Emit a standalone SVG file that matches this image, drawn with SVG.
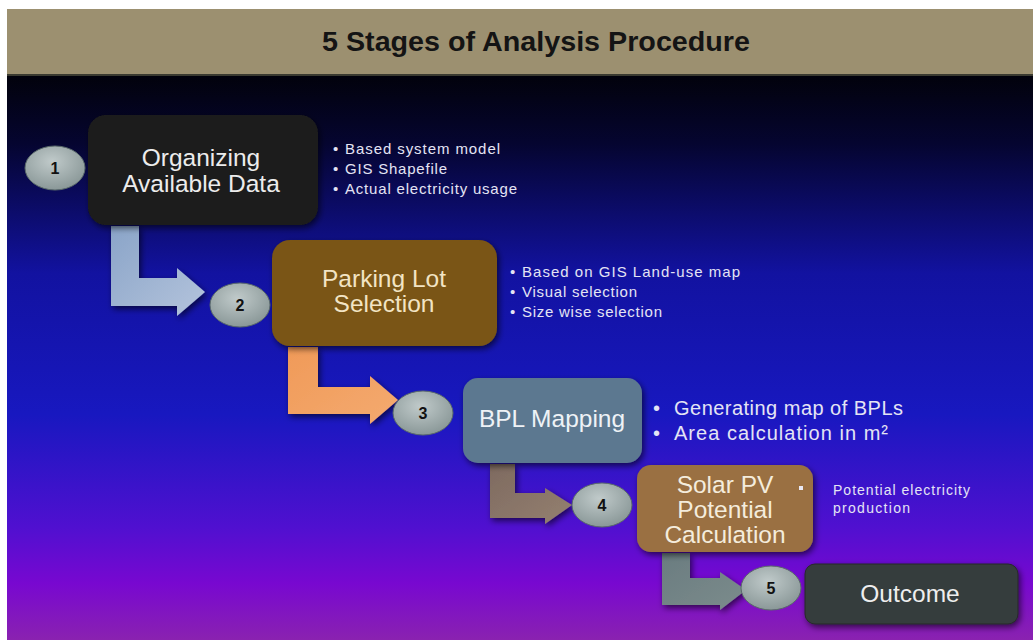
<svg xmlns="http://www.w3.org/2000/svg" width="1033" height="640" viewBox="0 0 1033 640">
<defs>
<linearGradient id="bg" x1="0" y1="0" x2="0" y2="1">
<stop offset="0" stop-color="#02020c"/>
<stop offset="0.12" stop-color="#050530"/>
<stop offset="0.35" stop-color="#1212a0"/>
<stop offset="0.6" stop-color="#1818c0"/>
<stop offset="0.8" stop-color="#5010d0"/>
<stop offset="0.9" stop-color="#7808d0"/>
<stop offset="1" stop-color="#8a22b0"/>
</linearGradient>
<radialGradient id="circ" cx="0.45" cy="0.35" r="0.7">
<stop offset="0" stop-color="#c0caca"/>
<stop offset="1" stop-color="#869494"/>
</radialGradient>
<linearGradient id="a1" x1="0" y1="0" x2="1" y2="1">
<stop offset="0" stop-color="#8aa4c8"/>
<stop offset="1" stop-color="#b4c4dc"/>
</linearGradient>
<linearGradient id="a2" x1="0" y1="0" x2="1" y2="1">
<stop offset="0" stop-color="#f09a58"/>
<stop offset="1" stop-color="#f4aa70"/>
</linearGradient>
<linearGradient id="a3" x1="0" y1="0" x2="1" y2="1">
<stop offset="0" stop-color="#7e6a60"/>
<stop offset="1" stop-color="#948070"/>
</linearGradient>
<linearGradient id="a4" x1="0" y1="0" x2="1" y2="1">
<stop offset="0" stop-color="#6a7c80"/>
<stop offset="1" stop-color="#7c8c8c"/>
</linearGradient>
<filter id="sh" x="-10%" y="-10%" width="130%" height="130%">
<feDropShadow dx="2" dy="3" stdDeviation="3" flood-color="#000" flood-opacity="0.6"/>
</filter>
</defs>
<style>
.node { font-family: "Liberation Sans", Arial, sans-serif; font-size: 24.5px; text-anchor: middle; }
.num { font-family: "Liberation Sans", Arial, sans-serif; font-size: 16px; font-weight: bold; text-anchor: middle; fill: #111; }
.bul { font-family: "Liberation Sans", Arial, sans-serif; font-size: 15px; fill: #e4e4f4; }
.bul3 { font-family: "Liberation Sans", Arial, sans-serif; font-size: 20px; fill: #e4e4f4; }
.bul4 { font-family: "Liberation Sans", Arial, sans-serif; font-size: 14px; fill: #e4e4f4; }
.circ { fill: url(#circ); stroke: #5a6a6a; stroke-width: 1; }
</style>
<rect x="0" y="0" width="1033" height="640" fill="#ffffff"/>
<rect x="7" y="9" width="1026" height="66" fill="#9c9070"/>
<rect x="7" y="74" width="1026" height="2" fill="#3a3a30"/>
<rect x="7" y="76" width="1026" height="564" fill="url(#bg)"/>
<text x="536" y="51" font-family="'Liberation Sans', Arial, sans-serif" font-size="28" font-weight="bold" text-anchor="middle" fill="#141414" textLength="428" lengthAdjust="spacingAndGlyphs">5 Stages of Analysis Procedure</text>

<g id="connectors">
<path d="M111,226 H139 V278 H177 V268 L205,292 L177,316 V306 H111 Z" fill="url(#a1)" filter="url(#sh)"/>
<path d="M288,347 H318 V387 H370 V376 L398,400 L370,424 V414 H288 Z" fill="url(#a2)" filter="url(#sh)"/>
<path d="M490,464 H515 V493 H545 V488 L572,505 L545,524 V518 H490 Z" fill="url(#a3)" filter="url(#sh)"/>
<path d="M662,553 H690 V578 H720 V572 L746,590 L720,610 V605 H662 Z" fill="url(#a4)" filter="url(#sh)"/>
</g>

<g id="node1">
<rect x="88" y="115" width="230" height="110" rx="18" fill="#1c1c1c" filter="url(#sh)"/>
<text class="node" x="201" y="166" fill="#ececec">Organizing</text>
<text class="node" x="201" y="192" fill="#ececec">Available Data</text>
<ellipse class="circ" cx="55" cy="168" rx="30" ry="22"/>
<text class="num" x="55" y="174">1</text>
<text class="bul" x="333" y="154">•</text>
<text class="bul" x="345" y="154" textLength="155">Based system model</text>
<text class="bul" x="333" y="174">•</text>
<text class="bul" x="345" y="174" textLength="102">GIS Shapefile</text>
<text class="bul" x="333" y="194">•</text>
<text class="bul" x="345" y="194" textLength="172">Actual electricity usage</text>
</g>

<g id="node2">
<rect x="272" y="240" width="225" height="106" rx="18" fill="#7a5412" filter="url(#sh)"/>
<text class="node" x="384" y="287" fill="#f2e4c4">Parking Lot</text>
<text class="node" x="384" y="312" fill="#f2e4c4">Selection</text>
<ellipse class="circ" cx="240" cy="305" rx="30" ry="22"/>
<text class="num" x="240" y="311">2</text>
<text class="bul" x="510" y="277">•</text>
<text class="bul" x="522" y="277" textLength="218">Based on GIS Land-use map</text>
<text class="bul" x="510" y="297">•</text>
<text class="bul" x="522" y="297" textLength="115">Visual selection</text>
<text class="bul" x="510" y="317">•</text>
<text class="bul" x="522" y="317" textLength="140">Size wise selection</text>
</g>

<g id="node3">
<rect x="463" y="378" width="179" height="85" rx="15" fill="#5c7890" filter="url(#sh)"/>
<text class="node" x="552" y="427" fill="#eef2f6">BPL Mapping</text>
<ellipse class="circ" cx="423" cy="413" rx="30" ry="22"/>
<text class="num" x="423" y="419">3</text>
<text class="bul3" x="653" y="415">•</text>
<text class="bul3" x="674" y="415" textLength="229">Generating map of BPLs</text>
<text class="bul3" x="653" y="440">•</text>
<text class="bul3" x="674" y="440" textLength="214">Area calculation in m²</text>
</g>

<g id="node4">
<rect x="637" y="465" width="176" height="87" rx="14" fill="#9a7042" filter="url(#sh)"/>
<text class="node" x="725" y="493" fill="#f4ecdc">Solar PV</text>
<text class="node" x="725" y="518" fill="#f4ecdc">Potential</text>
<text class="node" x="725" y="543" fill="#f4ecdc">Calculation</text>
<ellipse class="circ" cx="602" cy="505" rx="30" ry="22"/>
<text class="num" x="602" y="511">4</text>
<rect x="799" y="486" width="4" height="4" fill="#e8e8f4"/>
<text class="bul4" x="833" y="495" textLength="137">Potential electricity</text>
<text class="bul4" x="833" y="513" textLength="77">production</text>
</g>

<g id="node5">
<rect x="805" y="564" width="213" height="60" rx="10" fill="#363c3c" stroke="#262a2a" stroke-width="1" filter="url(#sh)"/>
<text class="node" x="910" y="602" fill="#eeeeee" font-size="26">Outcome</text>
<ellipse class="circ" cx="771" cy="588" rx="30" ry="22"/>
<text class="num" x="771" y="594">5</text>
</g>
</svg>
